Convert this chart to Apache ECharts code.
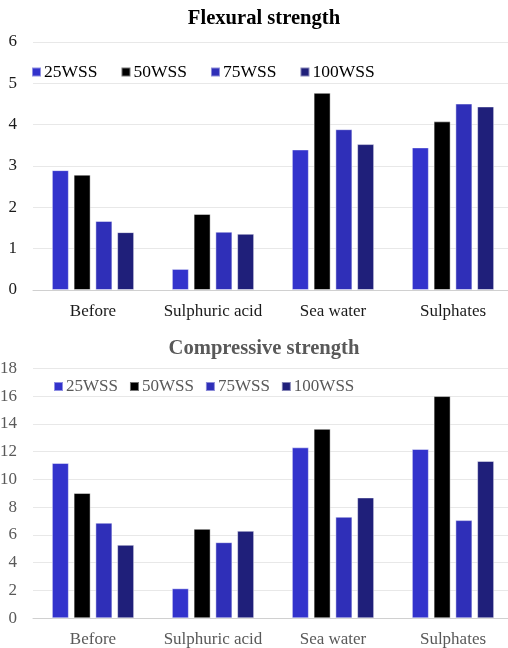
<!DOCTYPE html>
<html>
<head>
<meta charset="utf-8">
<script src="https://cdn.jsdelivr.net/npm/echarts@6/dist/echarts.min.js"></script>
<style>
  html, body { margin: 0; padding: 0; background: #fff; }
  #chart { width: 508px; height: 648px; }
</style>
</head>
<body>
<div id="chart"></div>
<script>
// Exposure conditions along the x axis
const categories = ['Before', 'Sulphuric acid', 'Sea water', 'Sulphates'];
const seriesNames = ['25WSS', '50WSS', '75WSS', '100WSS'];

// Flexural strength values per mix
const flex25 = [2.90, 0.51, 3.40, 3.45];
const flex50 = [2.79, 1.84, 4.77, 4.08];
const flex75 = [1.67, 1.41, 3.89, 4.51];
const flex100 = [1.40, 1.36, 3.53, 4.44];

// Compressive strength values per mix
const comp25 = [11.18, 2.16, 12.31, 12.19];
const comp50 = [9.02, 6.44, 13.64, 16.0];
const comp75 = [6.88, 5.48, 7.31, 7.07];
const comp100 = [5.29, 6.30, 8.70, 11.33];

// Axis ticks
const flexTicks = { min: 0, max: 6, interval: 1 };
const compTicks = { min: 0, max: 18, interval: 2 };

const colors = ['#3333CC', '#000000', '#2F2FB8', '#1F1F7A'];
const FONT = '"Liberation Serif", "Times New Roman", serif';

const chart = echarts.init(document.getElementById('chart'), null, { renderer: 'canvas' });

function barSeries(name, data, idx, color) {
  return {
    name: name,
    type: 'bar',
    xAxisIndex: idx,
    yAxisIndex: idx,
    data: data,
    barWidth: 17,
    barGap: '28%',
    itemStyle: { color: color, borderColor: 'rgba(255,255,255,0.45)', borderWidth: 1 },
    emphasis: { disabled: true }
  };
}

function catAxis(idx, color) {
  return {
    type: 'category',
    gridIndex: idx,
    data: categories,
    axisTick: { show: false },
    axisLine: { lineStyle: { color: '#d0d0d0', width: 1 } },
    axisLabel: { interval: 0, color: color, fontFamily: FONT, fontSize: 17, margin: 13 }
  };
}

function valAxis(idx, ticks, color) {
  return {
    type: 'value',
    gridIndex: idx,
    min: ticks.min,
    max: ticks.max,
    interval: ticks.interval,
    axisLine: { show: false },
    axisTick: { show: false },
    splitLine: { lineStyle: { color: '#e8e8e8', width: 1 } },
    axisLabel: { color: color, fontFamily: FONT, fontSize: 17, margin: 16 }
  };
}

// Chart headings, centred over the plot areas
function heading(text, y, color) {
  return {
    type: 'text',
    x: 264,
    y: y,
    style: {
      text: text,
      fill: color,
      font: 'bold 20.6px ' + FONT,
      textAlign: 'center',
      textVerticalAlign: 'middle'
    }
  };
}

const option = {
  animation: false,
  backgroundColor: '#ffffff',
  color: colors,
  graphic: [
    heading('Flexural strength', 19, '#000000'),
    heading('Compressive strength', 349, '#595959')
  ],
  legend: [
    {
      data: seriesNames,
      left: 31,
      top: 63,
      icon: 'rect',
      itemWidth: 9,
      itemHeight: 9,
      itemGap: 23,
      selectedMode: false,
      textStyle: { fontFamily: FONT, fontSize: 17.5, color: '#000000', padding: [0, 0, 0, -2] },
      padding: 0
    },
    {
      data: seriesNames,
      left: 53,
      top: 378,
      icon: 'rect',
      itemWidth: 9,
      itemHeight: 9,
      itemGap: 11,
      selectedMode: false,
      textStyle: { fontFamily: FONT, fontSize: 17, color: '#595959', padding: [0, 0, 0, -2] },
      padding: 0
    }
  ],
  grid: [
    { left: 33, top: 42, width: 480, height: 248, containLabel: false, outerBoundsMode: 'none' },
    { left: 33, top: 368.3, width: 480, height: 250, containLabel: false, outerBoundsMode: 'none' }
  ],
  xAxis: [catAxis(0, '#1a1a1a'), catAxis(1, '#595959')],
  yAxis: [valAxis(0, flexTicks, '#1a1a1a'), valAxis(1, compTicks, '#595959')],
  series: [
    barSeries(seriesNames[0], flex25, 0, colors[0]),
    barSeries(seriesNames[1], flex50, 0, colors[1]),
    barSeries(seriesNames[2], flex75, 0, colors[2]),
    barSeries(seriesNames[3], flex100, 0, colors[3]),
    barSeries(seriesNames[0], comp25, 1, colors[0]),
    barSeries(seriesNames[1], comp50, 1, colors[1]),
    barSeries(seriesNames[2], comp75, 1, colors[2]),
    barSeries(seriesNames[3], comp100, 1, colors[3])
  ]
};

chart.setOption(option);
</script>
</body>
</html>
